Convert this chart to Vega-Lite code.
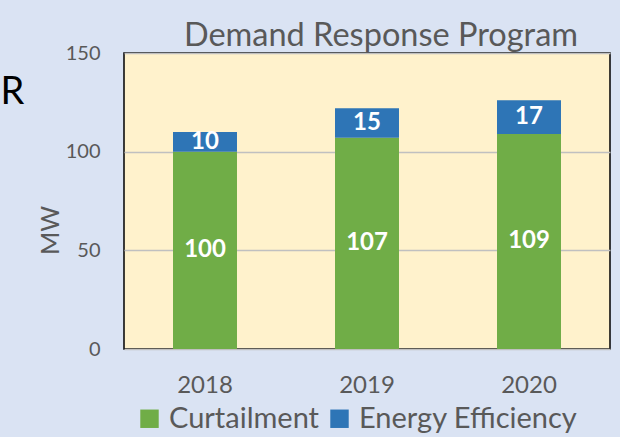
{
  "$schema": "https://vega.github.io/schema/vega-lite/v6.json",
  "width": 486,
  "height": 296,
  "autosize": {"type": "none"},
  "padding": {"left": 124, "top": 53, "right": 10, "bottom": 88},
  "background": "#DAE3F3",
  "title": {"text": "Demand Response Program", "fontSize": 32.5, "font": "Lato", "fontWeight": "normal", "color": "#595959", "dx": 14, "offset": -9, "anchor": "middle"},
  "data": {"values": [
    {"year": "2018", "type": "Curtailment", "mw": 100},
    {"year": "2018", "type": "Energy Efficiency", "mw": 10},
    {"year": "2019", "type": "Curtailment", "mw": 107},
    {"year": "2019", "type": "Energy Efficiency", "mw": 15},
    {"year": "2020", "type": "Curtailment", "mw": 109},
    {"year": "2020", "type": "Energy Efficiency", "mw": 17}
  ]},
  "config": {"view": {"fill": "#FFF2CC", "stroke": "#000000", "strokeWidth": 1.5}, "font": "Lato"},
  "encoding": {
    "x": {"field": "year", "type": "nominal", "scale": {"paddingInner": 0.605, "paddingOuter": 0.3025},
      "axis": {"title": null, "labelAngle": 0, "ticks": false, "domain": false, "labelPadding": 24, "labelFontSize": 24, "labelColor": "#595959", "labelFont": "Lato"}},
    "order": {"field": "type", "sort": "ascending"}
  },
  "layer": [
    {
      "mark": {"type": "bar"},
      "encoding": {
        "y": {"field": "mw", "type": "quantitative", "stack": "zero", "scale": {"domain": [0, 150], "nice": false},
          "axis": {"orient": "left", "title": "MW", "titleFontSize": 25, "titleColor": "#595959", "titleFontWeight": "normal", "titleX": -74, "titleY": 177, "titleAngle": 270, "titleBaseline": "middle", "titleAlign": "center", "labelFontSize": 20, "labelColor": "#595959", "labelPadding": 24, "ticks": false, "domain": false, "grid": true, "gridColor": "#C0C0C0", "gridWidth": 1.3, "values": [0, 50, 100, 150]}},
        "color": {"field": "type", "type": "nominal",
          "scale": {"domain": ["Curtailment", "Energy Efficiency"], "range": ["#70AD47", "#2E75B6"]},
          "legend": {"title": null, "orient": "none", "legendX": 11, "legendY": 351, "direction": "horizontal", "symbolType": "square", "symbolSize": 340, "symbolStrokeWidth": 0, "symbolOpacity": 1, "labelFontSize": 29, "labelLimit": 400, "labelColor": "#595959", "labelFont": "Lato", "columnPadding": 5, "labelOffset": 5, "padding": 0}}
      }
    },
    {
      "mark": {"type": "text", "color": "white", "fontWeight": "bold", "fontSize": 24, "baseline": "middle", "font": "Lato"},
      "encoding": {
        "y": {"field": "mw", "type": "quantitative", "stack": "zero", "bandPosition": 0.5, "scale": {"domain": [0, 150], "nice": false},
          "axis": {"orient": "left", "title": "R", "titleAngle": 0, "titleX": -124, "titleY": 39, "titleAlign": "left", "titleBaseline": "middle", "titleFontSize": 38, "titleColor": "#000000", "titleFontWeight": "normal", "labels": false, "ticks": false, "domain": false, "grid": false}},
        "detail": {"field": "type"},
        "text": {"field": "mw", "type": "quantitative"}
      }
    }
  ],
  "resolve": {"axis": {"y": "independent"}}
}
